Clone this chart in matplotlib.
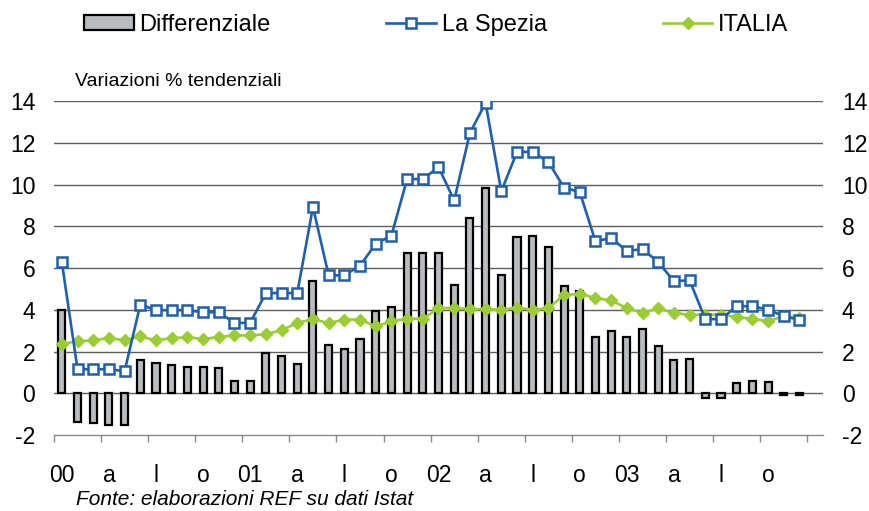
import matplotlib
matplotlib.use("Agg")
import matplotlib.pyplot as plt
from matplotlib.lines import Line2D
from matplotlib.patches import Patch
import numpy as np

plt.rcParams['font.family'] = ['Liberation Sans', 'DejaVu Sans']

# Monthly data Jan 2000 - Dec 2003
la_spezia = [6.28, 1.15, 1.15, 1.15, 1.06, 4.25, 3.98, 3.98, 3.98, 3.88, 3.88, 3.37,
             3.37, 4.80, 4.80, 4.80, 8.92, 5.65, 5.65, 6.11, 7.16, 7.55, 10.26, 10.26,
             10.83, 9.24, 12.47, 13.91, 9.67, 11.56, 11.56, 11.08, 9.85, 9.64, 7.28, 7.44,
             6.81, 6.91, 6.28, 5.37, 5.41, 3.55, 3.55, 4.17, 4.17, 4.01, 3.69, 3.52]
italia = [2.37, 2.48, 2.54, 2.64, 2.54, 2.72, 2.53, 2.64, 2.69, 2.59, 2.70, 2.77,
          2.77, 2.83, 3.02, 3.37, 3.55, 3.36, 3.53, 3.53, 3.21, 3.44, 3.58, 3.56,
          4.08, 4.08, 4.03, 4.03, 4.00, 4.10, 4.00, 4.08, 4.70, 4.77, 4.56, 4.45,
          4.08, 3.84, 4.06, 3.84, 3.76, 3.76, 3.77, 3.65, 3.57, 3.45, 3.69, 3.62]
differenziale = [3.97, -1.36, -1.44, -1.52, -1.52, 1.57, 1.44, 1.36, 1.28, 1.28, 1.22, 0.61,
                 0.61, 1.92, 1.79, 1.42, 5.36, 2.29, 2.11, 2.59, 3.93, 4.12, 6.70, 6.70,
                 6.70, 5.17, 8.41, 9.85, 5.66, 7.47, 7.55, 7.00, 5.15, 4.91, 2.70, 2.96,
                 2.70, 3.07, 2.24, 1.57, 1.66, -0.24, -0.24, 0.50, 0.61, 0.56, -0.06, -0.10]
tick_labels = ['00', 'a', 'l', 'o', '01', 'a', 'l', 'o', '02', 'a', 'l', 'o', '03', 'a', 'l', 'o']
y_ticks = [-2, 0, 2, 4, 6, 8, 10, 12, 14]

BLUE = '#1F5FAF'
GREEN = '#9ACD32'
BARC = '#B8BCBE'
GRID = '#5E5E5E'

fig = plt.figure(figsize=(8.69, 5.11), dpi=100)
ax = fig.add_axes([54/869, 1-435/511, (823-54)/869, (435-101)/511])

x = np.arange(len(la_spezia))
ax.bar(x, differenziale, width=0.45, color=BARC, edgecolor='black', linewidth=1.6, zorder=2)
ax.plot(x, italia, color=GREEN, lw=1.9, marker='D', markersize=6, markerfacecolor=GREEN,
        markeredgecolor=GREEN, zorder=3)
ax.plot(x, la_spezia, color=BLUE, lw=1.9, marker='s', markersize=6.5, markerfacecolor='white',
        markeredgecolor=BLUE, markeredgewidth=1.8, zorder=4)

ax.set_xlim(-0.5, 48.5)
ax.set_ylim(-2, 14)
for yv in y_ticks[1:]:
    ax.axhline(yv, color=GRID, lw=1.0, zorder=1)

for s in ['top', 'left', 'right']:
    ax.spines[s].set_visible(False)
ax.spines['bottom'].set_color('#8A8A8A')
ax.spines['bottom'].set_linewidth(1.0)

ax.set_yticks(y_ticks)
ax.set_yticklabels([str(v) for v in y_ticks])
ax.tick_params(axis='y', length=0, labelsize=16.5, pad=13.5, left=True, right=True,
               labelleft=True, labelright=True)

# x ticks: marks at quarter boundaries, labels at first month of each quarter
ax.set_xticks(np.arange(-0.5, 48, 3))
ax.set_xticklabels([])
ax.set_xticks(np.arange(0, 48, 3), minor=True)
ax.set_xticklabels(tick_labels, minor=True)
ax.tick_params(axis='x', which='major', length=5, color='#8A8A8A', width=1.0)
ax.tick_params(axis='x', which='minor', length=0, labelsize=16.5, pad=21)

fig.text(75/869, 1-82/511, 'Variazioni % tendenziali', fontsize=14,
         ha='left', va='center')

handles = [Patch(facecolor=BARC, edgecolor='black', linewidth=1.6),
           Line2D([0], [0], color=BLUE, lw=1.9, marker='s', markersize=6.5,
                  markerfacecolor='white', markeredgecolor=BLUE, markeredgewidth=1.8),
           Line2D([0], [0], color=GREEN, lw=1.9, marker='D', markersize=6,
                  markerfacecolor=GREEN, markeredgecolor=GREEN)]
fig.legend(handles, ['Differenziale', 'La Spezia', 'ITALIA'], ncol=3, frameon=False,
           loc='center left', bbox_to_anchor=(84/869, 1-25/511), borderpad=0,
           fontsize=17, handlelength=2.1, handleheight=0.6, handletextpad=0.25,
           columnspacing=4.9, borderaxespad=0)

fig.text(76/869, 1-499/511, 'Fonte: elaborazioni REF su dati Istat', fontsize=15,
         style='italic', ha='left', va='center')

fig.savefig('out.png', dpi=100)
